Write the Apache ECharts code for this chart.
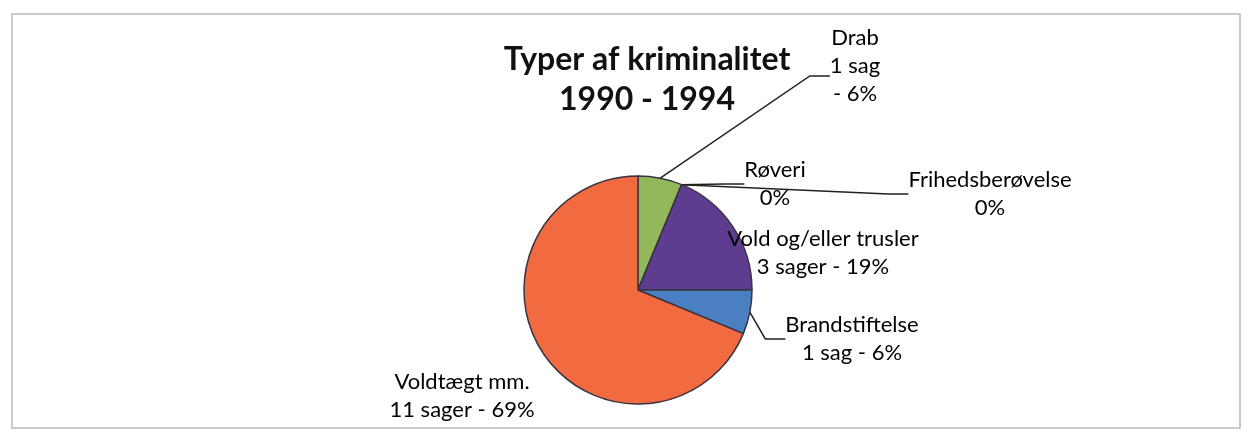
<!DOCTYPE html>
<html>
<head>
<meta charset="utf-8">
<script src="https://cdn.jsdelivr.net/npm/echarts@6/dist/echarts.min.js"></script>
<style>
  html, body { margin: 0; padding: 0; background: #fff; }
  #main { width: 1252px; height: 444px; }
</style>
</head>
<body>
<div id="main"></div>
<script>
// data
var categories = ['Drab', 'Røveri', 'Frihedsberøvelse', 'Vold og/eller trusler', 'Brandstiftelse', 'Voldtægt mm.'];
var cases = [1, 0, 0, 3, 1, 11];
var titleLines = ['Typer af kriminalitet', '1990 - 1994'];

var colorList = ['#93B85C', '#93B85C', '#5E3D91', '#5E3D91', '#4A80C2', '#F26A40'];

// where each label sits (x, y of the label anchor)
var labelPos = [
  { x: 855, y: 24 },
  { x: 775, y: 156 },
  { x: 990, y: 166 },
  { x: 823, y: 225 },
  { x: 852, y: 311 },
  { x: 462, y: 368 }
];
var hideLine = [false, false, false, true, false, true];

function caseText(n) {
  if (n === 0) return '';
  return n + (n === 1 ? ' sag' : ' sager') + ' - ';
}

var chart = echarts.init(document.getElementById('main'));

var option = {
  backgroundColor: '#fff',
  animation: false,
  title: {
    text: titleLines.join('\n'),
    left: 642,
    top: 35,
    textAlign: 'center',
    textStyle: {
      fontFamily: 'Lato',
      fontWeight: 'bold',
      fontSize: 32,
      lineHeight: 40,
      color: '#111'
    }
  },
  graphic: [{
    type: 'rect',
    shape: { x: 12, y: 14, width: 1228, height: 414 },
    style: { fill: 'none', stroke: '#bbb', lineWidth: 1.5 },
    silent: true
  }],
  series: [{
    type: 'pie',
    center: [638, 290],
    radius: 114,
    startAngle: 90,
    clockwise: true,
    percentPrecision: 0,
    avoidLabelOverlap: false,
    data: categories.map(function (name, i) {
      var item = {
        name: name,
        value: cases[i],
        itemStyle: { color: colorList[i] },
        labelLine: { show: !hideLine[i] }
      };
      if (i === 0) {
        item.label = { padding: [0, 0, 20, 0] };
      }
      return item;
    }),
    itemStyle: {
      borderColor: '#3a3340',
      borderWidth: 1.5
    },
    label: {
      show: true,
      fontFamily: 'Lato',
      fontSize: 22,
      lineHeight: 28,
      color: '#000',
      formatter: function (p) {
        var pct = p.percent + '%';
        if (p.dataIndex === 0) {
          return p.name + '\n' + p.value + ' sag\n- ' + pct;
        }
        return p.name + '\n' + caseText(p.value) + pct;
      }
    },
    labelLine: {
      show: true,
      length: 20,
      length2: 20,
      lineStyle: { color: '#222', width: 1.5 }
    },
    labelLayout: function (params) {
      var pos = labelPos[params.dataIndex];
      return {
        x: pos.x,
        y: pos.y,
        align: 'center',
        verticalAlign: 'top'
      };
    }
  }]
};

chart.setOption(option);
</script>
</body>
</html>
